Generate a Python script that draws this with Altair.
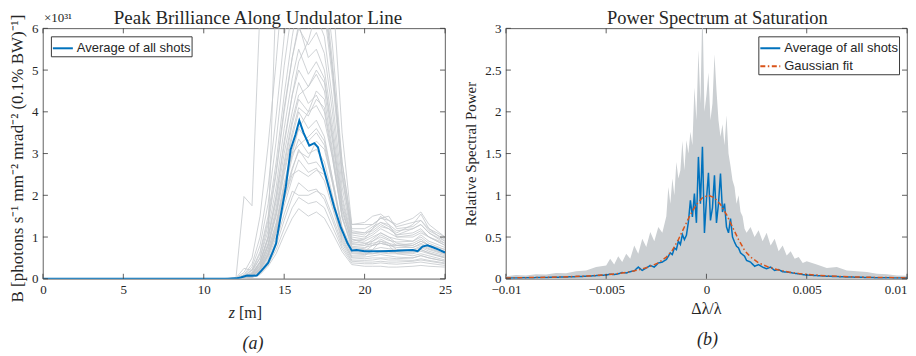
import altair as alt
import pandas as pd

# ---------------- Panel (a): peak brilliance along undulator ----------------
Z = [0, 11, 12, 12.5, 13, 13.5, 14, 14.5, 15, 15.5, 15.9, 16.5, 17, 17.5, 18, 18.6,
     19.2, 20, 20.5, 21, 21.5, 22, 23, 23.5, 24, 25]

shots = [
    [0, 0, 0.02, 0.15, 0.5, 1.5, 3.2, 5.2, 7.5, 9, 10, 9, 9.5, 9, 7, 3.5, 1.3, 1.35, 1.5, 1.55, 1.4, 1.3, 1.45, 1.6, 1.3, 1.0],
    [0, 0, 0.01, 0.1, 0.35, 1.0, 2.2, 3.9, 5.8, 7.2, 8.2, 7.4, 7.8, 7.2, 5.6, 2.8, 1.2, 1.2, 1.3, 1.45, 1.5, 1.2, 1.25, 1.4, 1.15, 0.95],
    [0, 0, 0.01, 0.07, 0.22, 0.65, 1.5, 2.8, 4.4, 5.8, 6.7, 6.0, 6.3, 5.8, 4.3, 2.2, 1.05, 1.0, 1.1, 1.25, 1.2, 1.05, 1.1, 1.2, 1.0, 0.85],
    [0, 0, 0.01, 0.05, 0.16, 0.5, 1.15, 2.2, 3.6, 4.8, 5.5, 4.9, 5.2, 4.8, 3.5, 1.8, 0.95, 0.9, 1.0, 1.1, 1.0, 0.95, 0.9, 1.05, 0.9, 0.75],
    [0, 0, 0, 0.04, 0.12, 0.38, 0.95, 1.85, 3.0, 4.0, 4.7, 4.2, 4.4, 4.0, 2.9, 1.5, 0.82, 0.8, 0.85, 0.9, 0.85, 0.8, 0.8, 0.9, 0.8, 0.65],
    [0, 0, 0, 0.03, 0.09, 0.3, 0.78, 1.5, 2.5, 3.4, 4.0, 3.6, 3.8, 3.4, 2.4, 1.25, 0.72, 0.7, 0.7, 0.75, 0.72, 0.7, 0.7, 0.78, 0.7, 0.58],
    [0, 0, 0, 0.025, 0.07, 0.24, 0.62, 1.2, 2.1, 2.9, 3.35, 3.0, 3.1, 2.8, 2.0, 1.05, 0.6, 0.58, 0.6, 0.62, 0.6, 0.6, 0.6, 0.66, 0.6, 0.5],
    [0, 0, 0, 0.02, 0.05, 0.2, 0.5, 1.0, 1.75, 2.4, 2.85, 2.55, 2.65, 2.35, 1.7, 0.9, 0.5, 0.48, 0.5, 0.5, 0.5, 0.48, 0.5, 0.55, 0.5, 0.42],
    [0, 0, 0, 0.015, 0.04, 0.15, 0.4, 0.8, 1.4, 1.95, 2.3, 2.1, 2.15, 1.9, 1.4, 0.78, 0.42, 0.4, 0.4, 0.42, 0.4, 0.4, 0.42, 0.45, 0.42, 0.36],
    [0, 0, 0, 0.01, 0.03, 0.1, 0.3, 0.6, 1.05, 1.45, 1.68, 1.5, 1.6, 1.45, 1.1, 0.65, 0.34, 0.3, 0.3, 0.3, 0.28, 0.28, 0.3, 0.32, 0.3, 0.28],
    [0, 0, 0, 0.02, 0.07, 0.25, 0.7, 1.3, 2.2, 3.0, 3.6, 4.0, 4.5, 4.3, 3.1, 1.6, 0.9, 0.95, 1.2, 1.5, 1.3, 1.0, 1.0, 1.1, 1.0, 0.8],
    [0, 0, 0.01, 0.04, 0.13, 0.42, 1.0, 1.95, 3.2, 4.4, 5.2, 5.7, 6.4, 6.6, 5.0, 2.5, 1.1, 1.05, 1.2, 1.35, 1.25, 1.1, 1.3, 1.55, 1.2, 0.9],
    [0, 0, 0.01, 1.97, 1.75, 6.5, 9, 9, 9, 8.5, 8, 7.5, 7.2, 6.8, 5, 2.8, 1.3, 1.3, 1.3, 1.45, 1.4, 1.25, 1.35, 1.4, 1.2, 1.0],
    [0, 0, 0, 0.03, 0.1, 0.4, 1.0, 7.0, 9, 9, 8.5, 7.5, 7.5, 7, 5.2, 2.6, 1.15, 1.1, 1.15, 1.3, 1.2, 1.05, 1.2, 1.3, 1.1, 0.85],
    [0, 0, 0, 0.03, 0.1, 0.32, 0.82, 1.6, 2.7, 3.7, 4.3, 4.0, 4.15, 3.8, 2.9, 1.45, 0.75, 0.72, 0.9, 1.05, 0.95, 0.8, 0.75, 0.85, 0.75, 0.6],
    [0, 0, 0, 0.02, 0.06, 0.2, 0.58, 1.15, 2.0, 2.65, 3.05, 2.9, 3.3, 3.1, 2.3, 1.2, 0.62, 0.6, 0.65, 0.68, 0.65, 0.62, 0.65, 0.7, 0.62, 0.5],
    [0, 0, 0.02, 0.25, 0.2, 0.5, 1.3, 2.5, 4.0, 5.3, 6.1, 5.3, 5.5, 5.0, 3.7, 1.9, 0.95, 0.85, 0.8, 0.85, 0.8, 0.8, 0.85, 0.95, 0.8, 0.7],
    [0, 0, 0, 0.02, 0.06, 0.22, 0.55, 1.1, 1.9, 2.6, 3.1, 2.75, 2.8, 2.55, 1.85, 1.0, 0.55, 0.55, 0.7, 0.9, 0.8, 0.6, 0.55, 0.6, 0.55, 0.45],
    [0, 0, 0.01, 0.06, 0.2, 0.6, 1.4, 2.6, 4.1, 5.3, 6.0, 5.6, 5.9, 5.4, 4.0, 2.0, 1.0, 0.95, 1.05, 1.2, 1.1, 1.0, 1.05, 1.15, 1.0, 0.8],
    [0, 0, 0, 0.04, 0.13, 0.4, 1.0, 2.0, 3.3, 4.4, 5.0, 4.6, 4.9, 4.5, 3.3, 1.7, 0.88, 0.85, 0.9, 1.0, 0.92, 0.88, 0.9, 1.0, 0.85, 0.7],
    [0, 0, 0, 0.03, 0.1, 0.35, 0.85, 1.7, 2.8, 3.8, 4.4, 4.6, 5.0, 4.7, 3.4, 1.7, 0.85, 0.8, 0.95, 1.1, 1.0, 0.85, 0.8, 0.9, 0.8, 0.65],
    [0, 0, 0, 0.025, 0.08, 0.27, 0.7, 1.35, 2.3, 3.1, 3.6, 3.3, 3.5, 3.2, 2.3, 1.15, 0.65, 0.62, 0.6, 0.65, 0.62, 0.65, 0.62, 0.7, 0.62, 0.52],
    [0, 0, 0, 0.02, 0.06, 0.22, 0.56, 1.1, 1.9, 2.5, 2.6, 2.45, 2.6, 2.5, 1.8, 0.95, 0.52, 0.52, 0.55, 0.58, 0.55, 0.52, 0.5, 0.56, 0.5, 0.42],
    [0, 0, 0, 0.015, 0.045, 0.17, 0.45, 0.9, 1.55, 2.1, 2.0, 2.0, 2.1, 2.0, 1.5, 0.85, 0.45, 0.44, 0.45, 0.48, 0.45, 0.45, 0.44, 0.48, 0.44, 0.38],
    [0, 0, 0.01, 0.08, 0.28, 0.8, 1.8, 3.3, 5.1, 6.5, 7.3, 6.6, 6.9, 6.4, 4.8, 2.4, 1.1, 1.1, 1.25, 1.35, 1.3, 1.15, 1.2, 1.3, 1.1, 0.9],
    [0, 0, 0, 0.03, 0.1, 0.3, 0.8, 1.55, 2.6, 3.5, 4.1, 3.9, 4.3, 4.1, 3.0, 1.5, 0.78, 0.75, 0.8, 0.85, 0.8, 0.75, 0.75, 0.82, 0.72, 0.6],
    [0, 0, 0, 0.02, 0.07, 0.24, 0.62, 1.25, 2.2, 3.0, 3.2, 3.4, 3.6, 3.3, 2.4, 1.2, 0.66, 0.66, 0.8, 0.95, 0.85, 0.7, 0.68, 0.75, 0.66, 0.55],
    [0, 0, 0, 0.01, 0.035, 0.12, 0.34, 0.7, 1.2, 1.7, 1.95, 1.8, 1.85, 1.7, 1.25, 0.72, 0.38, 0.36, 0.36, 0.38, 0.36, 0.35, 0.38, 0.4, 0.37, 0.32],
]

avg_z = [0, 11, 11.5, 12, 12.3, 12.7, 13.0, 13.3, 13.6, 14.0, 14.3, 14.5, 14.55, 14.6, 15.1, 15.4,
         15.7, 15.94, 16.2, 16.56, 16.87, 17.1, 17.3, 17.7, 18.1, 18.5, 18.94, 19.2, 19.5, 20, 21,
         22, 23.0, 23.3, 23.6, 23.9, 24.2, 24.6, 25]
avg_b = [0, 0, 0.003, 0.01, 0.03, 0.08, 0.07, 0.08, 0.2, 0.38, 0.65, 0.85, 1.0, 1.09, 2.2, 3.09,
         3.45, 3.79, 3.5, 3.19, 3.25, 3.15, 2.85, 2.3, 1.73, 1.25, 0.85, 0.68, 0.69, 0.66, 0.66,
         0.67, 0.69, 0.66, 0.77, 0.8, 0.76, 0.7, 0.63]

z_ticks = [0, 5, 10, 15, 20, 25]
b_ticks = [0, 1, 2, 3, 4, 5, 6]

# ---------------- Panel (b): power spectrum at saturation ----------------
spec_x = [-0.01, -0.0095, -0.009, -0.0085, -0.008, -0.0075, -0.007, -0.0065, -0.006, -0.0055,
          -0.005, -0.0048, -0.0046, -0.0044, -0.0042, -0.004, -0.0038, -0.0036, -0.0034, -0.0032,
          -0.003, -0.0028, -0.0026, -0.0024, -0.0022,
          -0.002, -0.0019, -0.0018, -0.0017, -0.0016, -0.0015, -0.0014, -0.0013, -0.0012, -0.0011,
          -0.001, -0.0009, -0.0008, -0.0007, -0.0006, -0.0005, -0.0004, -0.0003, -0.0002, -0.0001,
          0, 0.0001, 0.0002, 0.0003, 0.0004, 0.0005, 0.0006, 0.0007, 0.0008, 0.0009, 0.001, 0.0011,
          0.0012, 0.0013, 0.0014, 0.0015, 0.0016, 0.0017, 0.0018, 0.0019, 0.002,
          0.0022, 0.0024, 0.0026, 0.0028, 0.003, 0.0032, 0.0034, 0.0036, 0.0038, 0.004, 0.0042,
          0.0044, 0.0046, 0.0048, 0.005,
          0.0055, 0.006, 0.0065, 0.007, 0.0075, 0.008, 0.0085, 0.009, 0.0095, 0.01]

spec_avg = [0.008, 0.01, 0.012, 0.014, 0.016, 0.019, 0.022, 0.026, 0.03, 0.038,
            0.045, 0.055, 0.05, 0.06, 0.075, 0.07, 0.085, 0.095, 0.14, 0.1, 0.13, 0.16, 0.14, 0.19, 0.2,
            0.23, 0.27, 0.31, 0.29, 0.37, 0.35, 0.45, 0.41, 0.53, 0.47, 0.52, 0.68, 0.94, 0.74, 1.02,
            0.67, 1.46, 0.9, 1.58, 0.55, 0.95, 1.27, 0.7, 0.85, 1.24, 0.67, 0.9, 1.26, 0.8, 0.9,
            0.62, 0.55, 0.72, 0.5, 0.44, 0.39, 0.37, 0.31, 0.29, 0.27, 0.22,
            0.2, 0.15, 0.17, 0.14, 0.12, 0.14, 0.1, 0.11, 0.085, 0.08, 0.075, 0.065, 0.06, 0.05, 0.045,
            0.038, 0.031, 0.027, 0.022, 0.019, 0.016, 0.013, 0.012, 0.01, 0.008]

spec_shots_max = [0.03, 0.045, 0.04, 0.055, 0.05, 0.07, 0.065, 0.09, 0.1, 0.14,
                  0.16, 0.24, 0.17, 0.27, 0.2, 0.3, 0.24, 0.4, 0.3, 0.48, 0.38, 0.56, 0.45, 0.62, 0.55,
                  0.75, 1.1, 0.9, 1.2, 1.0, 1.4, 1.2, 1.3, 1.65, 1.3, 1.66, 1.5, 1.76, 1.6, 2.29,
                  1.9, 2.74, 2.1, 3.3, 2.0, 2.2, 2.47, 1.9, 2.1, 2.69, 2.26, 1.9, 1.7, 1.85, 1.6,
                  1.96, 1.5, 1.35, 1.18, 1.1, 0.9, 1.0, 0.8, 0.75, 0.6, 0.55,
                  0.62, 0.5, 0.58, 0.45, 0.55, 0.4, 0.48, 0.33, 0.4, 0.28, 0.33, 0.24, 0.26, 0.19, 0.21,
                  0.17, 0.13, 0.14, 0.1, 0.09, 0.08, 0.06, 0.055, 0.04, 0.035]

fit_x = [-0.01, -0.0089, -0.0079, -0.0069, -0.0059, -0.0049, -0.0044, -0.0039, -0.0034, -0.0029,
         -0.0024, -0.002, -0.0017, -0.0014, -0.0011, -0.0008, -0.0005, -0.0002, 0.0001, 0.0004,
         0.0007, 0.001, 0.0013, 0.0016, 0.0019, 0.0022, 0.0026, 0.0031, 0.0036, 0.0041, 0.0046,
         0.0051, 0.0061, 0.0071, 0.0081, 0.0091, 0.01]
fit_y = [0.01, 0.014, 0.018, 0.024, 0.034, 0.05, 0.063, 0.08, 0.105, 0.14, 0.19, 0.26, 0.34, 0.47,
         0.62, 0.77, 0.89, 0.97, 1.0, 0.97, 0.89, 0.77, 0.62, 0.47, 0.34, 0.26, 0.19, 0.14, 0.105,
         0.08, 0.063, 0.05, 0.034, 0.024, 0.018, 0.014, 0.01]

x_ticks = [-0.01, -0.005, 0, 0.005, 0.01]
p_ticks = [0, 0.5, 1, 1.5, 2, 2.5, 3]

# ---------------- styling ----------------
W1, W2, H = 403, 402, 251
SERIF = "Liberation Serif"
SANS = "Liberation Sans"
TEXT = "#262626"
FRAME = "#3a3a3a"
BLUE = "#0072BD"
RED = "#D95319"
GRAY_LINE = "#c4c8cb"
GRAY_FILL = "#cbcfd2"
TICK = 5

one = pd.DataFrame({"k": [0]})


def legend(orient):
    return alt.Legend(orient=orient, title=None, offset=8, padding=1,
                      strokeColor=FRAME, fillColor="white",
                      symbolType="stroke", symbolSize=400, symbolStrokeWidth=2,
                      labelFont=SANS, labelFontSize=13, labelColor=TEXT,
                      labelOffset=3, rowPadding=0)


def label(text, x, y, size, style="normal", align="center", angle=0, baseline="middle"):
    return alt.Chart(one).mark_text(align=align, baseline=baseline, font=SERIF, fontSize=size,
                                    fontStyle=style, color=TEXT, angle=angle).encode(
        x=alt.value(x), y=alt.value(y), text=alt.value(text))


def tick_rules(df, enc, axis, w):
    m = dict(color=FRAME, strokeWidth=0.8)
    if axis == "x":
        return [alt.Chart(df).mark_rule(**m).encode(x=enc, y=alt.value(H), y2=alt.value(H - TICK)),
                alt.Chart(df).mark_rule(**m).encode(x=enc, y=alt.value(0), y2=alt.value(TICK))]
    return [alt.Chart(df).mark_rule(**m).encode(y=enc, x=alt.value(0), x2=alt.value(TICK)),
            alt.Chart(df).mark_rule(**m).encode(y=enc, x=alt.value(w - TICK), x2=alt.value(w))]


# ---------------- panel (a) ----------------
shot_rows = [{"shot": i, "z": z, "B": b} for i, s in enumerate(shots) for z, b in zip(Z, s)]
shots_df = pd.DataFrame(shot_rows)
avg_df = pd.DataFrame({"z": avg_z, "B": avg_b, "series": "Average of all shots"})

xA = alt.X("z:Q", scale=alt.Scale(domain=[0, 25], nice=False, zero=False),
           axis=alt.Axis(values=z_ticks, title=None, labelFlush=False, labelPadding=5, format="d"))
yA = alt.Y("B:Q", scale=alt.Scale(domain=[0, 6], nice=False),
           axis=alt.Axis(values=b_ticks, title=None, labelPadding=5, format="d"))

gray_a = alt.Chart(shots_df).mark_line(color=GRAY_LINE, strokeWidth=0.8, clip=True).encode(
    x=xA, y=yA, detail="shot:N")
avg_a = alt.Chart(avg_df).mark_line(strokeWidth=2, clip=True).encode(
    x=xA, y=yA,
    color=alt.Color("series:N", scale=alt.Scale(domain=["Average of all shots"], range=[BLUE]),
                    legend=legend("top-left")))

left = alt.layer(
    gray_a, avg_a,
    *tick_rules(pd.DataFrame({"z": z_ticks}), xA, "x", W1),
    *tick_rules(pd.DataFrame({"B": b_ticks}), yA, "y", W1),
    label("×10³¹", 1, -6, 13, align="left", baseline="alphabetic"),
    label("Peak Brilliance Along Undulator Line", W1 / 2 + 14, -4, 19, baseline="alphabetic"),
    label("B [photons s⁻¹ mm⁻² mrad⁻² (0.1% BW)⁻¹]", -25, H / 2 + 5, 17, angle=270),
    label("z", W1 / 2 - 9, H + 34, 16, "italic", "right"),
    label("[m]", W1 / 2 - 5, H + 34, 16, "normal", "left"),
    label("(a)", W1 / 2 + 9, H + 65, 18, "italic"),
).properties(width=W1, height=H)

# ---------------- panel (b) ----------------
spec_df = pd.DataFrame({"x": spec_x, "P": spec_shots_max})
lines_df = pd.concat([
    pd.DataFrame({"x": spec_x, "P": spec_avg, "series": "Average of all shots"}),
    pd.DataFrame({"x": fit_x, "P": fit_y, "series": "Gaussian fit"}),
], ignore_index=True)

xB = alt.X("x:Q", scale=alt.Scale(domain=[-0.01, 0.01], nice=False, zero=False),
           axis=alt.Axis(values=x_ticks, title=None, labelFlush=False, labelPadding=5,
                         labelExpr="datum.value == 0 ? '0' : format(datum.value, '.3~f')",
                         labelAlign={"condition": {"test": "datum.value >= 0.0099", "value": "right"},
                                     "value": "center"}))
yB = alt.Y("P:Q", scale=alt.Scale(domain=[0, 3], nice=False),
           axis=alt.Axis(values=p_ticks, title="Relative Spectral Power", labelPadding=5,
                         titlePadding=6, labelExpr="format(datum.value, '~g')"))

series_dom = ["Average of all shots", "Gaussian fit"]
gray_b = alt.Chart(spec_df).mark_area(color=GRAY_FILL, opacity=1, clip=True).encode(x=xB, y=yB)
lines_b = alt.Chart(lines_df).mark_line(clip=True, strokeWidth=1.5).encode(
    x=xB, y=yB,
    color=alt.Color("series:N", scale=alt.Scale(domain=series_dom, range=[BLUE, RED]),
                    legend=legend("top-right")),
    strokeDash=alt.StrokeDash("series:N",
                              scale=alt.Scale(domain=series_dom, range=[[1, 0], [5, 2.5, 1.5, 2.5]]),
                              legend=legend("top-right")))

right = alt.layer(
    gray_b, lines_b,
    *tick_rules(pd.DataFrame({"x": x_ticks}), xB, "x", W2),
    *tick_rules(pd.DataFrame({"P": p_ticks}), yB, "y", W2),
    label("Power Spectrum at Saturation", W2 / 2 + 11, -4, 18.5, baseline="alphabetic"),
    label("Δλ/λ", W2 / 2, H + 30, 16),
    label("(b)", W2 / 2 + 1, H + 61, 18, "italic"),
).properties(width=W2, height=H)

chart = alt.hconcat(left, right, spacing=11).resolve_scale(
    color="independent", strokeDash="independent", x="independent", y="independent"
).properties(padding=0).configure_view(
    stroke=FRAME, strokeWidth=0.8
).configure_axis(
    labelFont=SERIF, labelFontSize=13, labelColor=TEXT, titleFont=SERIF, titleFontSize=15,
    titleFontWeight="normal", titleColor=TEXT, ticks=False, domain=False, grid=False
)

chart.save("out.html", embed_options={"renderer": "svg", "actions": False})
